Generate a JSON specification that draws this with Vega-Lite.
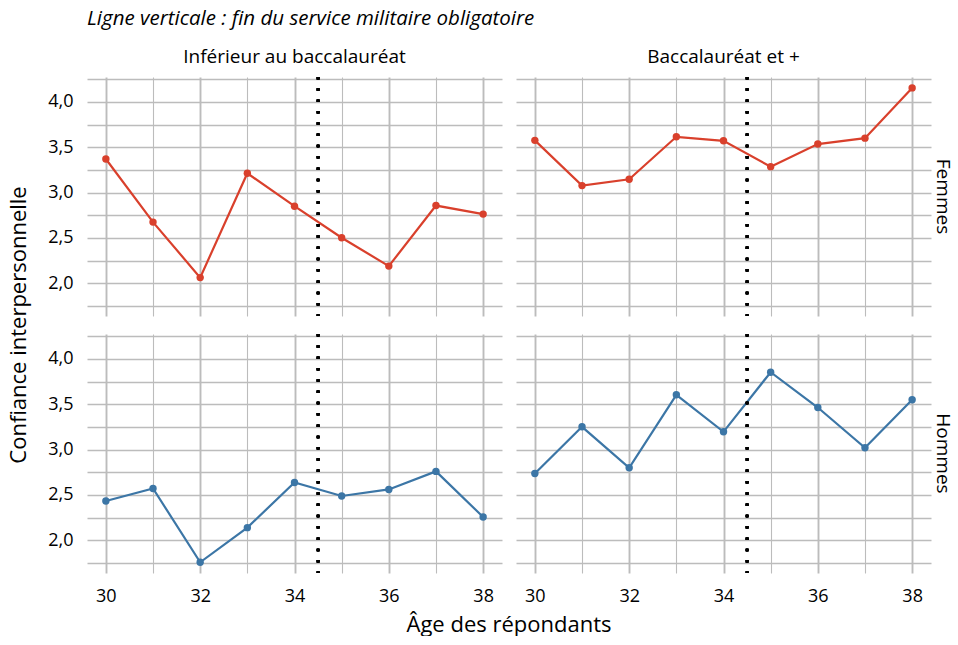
{
  "$schema": "https://vega.github.io/schema/vega-lite/v6.json",
  "padding": {"left": 7, "top": 8, "right": 3, "bottom": 0},
  "title": {"text": "Ligne verticale : fin du service militaire obligatoire", "anchor": "start", "frame": "group", "fontStyle": "italic", "fontWeight": "normal", "fontSize": 20.5, "font": "Open Sans", "color": "#000", "offset": 19},
  "data": {"values": [
    {"sexe": "Femmes", "diplome": "Inférieur au baccalauréat", "age": 30, "conf": 3.37},
    {"sexe": "Femmes", "diplome": "Inférieur au baccalauréat", "age": 31, "conf": 2.675},
    {"sexe": "Femmes", "diplome": "Inférieur au baccalauréat", "age": 32, "conf": 2.063},
    {"sexe": "Femmes", "diplome": "Inférieur au baccalauréat", "age": 33, "conf": 3.213},
    {"sexe": "Femmes", "diplome": "Inférieur au baccalauréat", "age": 34, "conf": 2.85},
    {"sexe": "Femmes", "diplome": "Inférieur au baccalauréat", "age": 35, "conf": 2.502},
    {"sexe": "Femmes", "diplome": "Inférieur au baccalauréat", "age": 36, "conf": 2.19},
    {"sexe": "Femmes", "diplome": "Inférieur au baccalauréat", "age": 37, "conf": 2.857},
    {"sexe": "Femmes", "diplome": "Inférieur au baccalauréat", "age": 38, "conf": 2.763},
    {"sexe": "Femmes", "diplome": "Baccalauréat et +", "age": 30, "conf": 3.576},
    {"sexe": "Femmes", "diplome": "Baccalauréat et +", "age": 31, "conf": 3.077},
    {"sexe": "Femmes", "diplome": "Baccalauréat et +", "age": 32, "conf": 3.147},
    {"sexe": "Femmes", "diplome": "Baccalauréat et +", "age": 33, "conf": 3.615},
    {"sexe": "Femmes", "diplome": "Baccalauréat et +", "age": 34, "conf": 3.571},
    {"sexe": "Femmes", "diplome": "Baccalauréat et +", "age": 35, "conf": 3.286},
    {"sexe": "Femmes", "diplome": "Baccalauréat et +", "age": 36, "conf": 3.535},
    {"sexe": "Femmes", "diplome": "Baccalauréat et +", "age": 37, "conf": 3.6},
    {"sexe": "Femmes", "diplome": "Baccalauréat et +", "age": 38, "conf": 4.154},
    {"sexe": "Hommes", "diplome": "Inférieur au baccalauréat", "age": 30, "conf": 2.434},
    {"sexe": "Hommes", "diplome": "Inférieur au baccalauréat", "age": 31, "conf": 2.572},
    {"sexe": "Hommes", "diplome": "Inférieur au baccalauréat", "age": 32, "conf": 1.758},
    {"sexe": "Hommes", "diplome": "Inférieur au baccalauréat", "age": 33, "conf": 2.14},
    {"sexe": "Hommes", "diplome": "Inférieur au baccalauréat", "age": 34, "conf": 2.638},
    {"sexe": "Hommes", "diplome": "Inférieur au baccalauréat", "age": 35, "conf": 2.489},
    {"sexe": "Hommes", "diplome": "Inférieur au baccalauréat", "age": 36, "conf": 2.561},
    {"sexe": "Hommes", "diplome": "Inférieur au baccalauréat", "age": 37, "conf": 2.76},
    {"sexe": "Hommes", "diplome": "Inférieur au baccalauréat", "age": 38, "conf": 2.257},
    {"sexe": "Hommes", "diplome": "Baccalauréat et +", "age": 30, "conf": 2.737},
    {"sexe": "Hommes", "diplome": "Baccalauréat et +", "age": 31, "conf": 3.251},
    {"sexe": "Hommes", "diplome": "Baccalauréat et +", "age": 32, "conf": 2.8},
    {"sexe": "Hommes", "diplome": "Baccalauréat et +", "age": 33, "conf": 3.604},
    {"sexe": "Hommes", "diplome": "Baccalauréat et +", "age": 34, "conf": 3.196},
    {"sexe": "Hommes", "diplome": "Baccalauréat et +", "age": 35, "conf": 3.853},
    {"sexe": "Hommes", "diplome": "Baccalauréat et +", "age": 36, "conf": 3.464},
    {"sexe": "Hommes", "diplome": "Baccalauréat et +", "age": 37, "conf": 3.02},
    {"sexe": "Hommes", "diplome": "Baccalauréat et +", "age": 38, "conf": 3.549}
  ]},
  "facet": {
    "column": {"field": "diplome", "type": "nominal", "sort": ["Inférieur au baccalauréat", "Baccalauréat et +"],
      "header": {"title": "Âge des répondants", "titleOrient": "bottom", "labelOrient": "top", "labelFontSize": 19, "labelFont": "Open Sans", "labelColor": "#000", "labelPadding": 8, "titleFontSize": 22, "titleFont": "Open Sans", "titleFontWeight": "normal", "titleColor": "#000", "titlePadding": 0}},
    "row": {"field": "sexe", "type": "nominal", "sort": ["Femmes", "Hommes"],
      "header": {"title": "Confiance interpersonnelle", "titleOrient": "left", "labelOrient": "right", "labelAngle": 90, "labelFontSize": 19, "labelFont": "Open Sans", "labelColor": "#000", "labelPadding": 2, "titleFontSize": 22, "titleFont": "Open Sans", "titleFontWeight": "normal", "titleColor": "#000", "titlePadding": 6}}
  },
  "spacing": 14,
  "spec": {
    "width": 415,
    "height": 239,
    "layer": [
      {"mark": {"type": "line", "strokeWidth": 2.2, "point": {"filled": true, "size": 55}},
       "encoding": {
         "x": {"field": "age", "type": "quantitative", "scale": {"domain": [29.6, 38.4], "nice": false, "zero": false},
           "axis": {"values": [30, 31, 32, 33, 34, 35, 36, 37, 38], "labelExpr": "datum.value % 2 == 0 ? datum.label : ''", "labelOverlap": false, "title": null, "domain": false, "ticks": false, "labelPadding": 12, "labelFontSize": 18, "labelFont": "Open Sans", "labelColor": "#000",
             "gridColor": "#bcbcbc",
             "gridWidth": {"condition": {"test": "datum.value % 2 == 0", "value": 1.9}, "value": 1.1}}},
         "y": {"field": "conf", "type": "quantitative", "scale": {"domain": [1.64, 4.274], "nice": false, "zero": false},
           "axis": {"values": [1.75, 2, 2.25, 2.5, 2.75, 3, 3.25, 3.5, 3.75, 4, 4.25], "labelExpr": "abs(datum.value * 2 - round(datum.value * 2)) < 0.01 ? replace(format(datum.value, '.1f'), '.', ',') : ''", "title": null, "domain": false, "ticks": false, "labelPadding": 14, "labelFontSize": 18, "labelFont": "Open Sans", "labelColor": "#000",
             "gridColor": "#bcbcbc", "gridWidth": 1.5}},
         "color": {"field": "sexe", "type": "nominal", "scale": {"domain": ["Femmes", "Hommes"], "range": ["#d9402c", "#3c76a6"]}, "legend": null}
       }},
      {"mark": {"type": "rule", "strokeDash": [2.5, 8.8], "strokeWidth": 2.6, "color": "#000"},
       "encoding": {"x": {"datum": 34.5}}}
    ]
  },
  "config": {"view": {"stroke": null}, "font": "Open Sans"}
}
